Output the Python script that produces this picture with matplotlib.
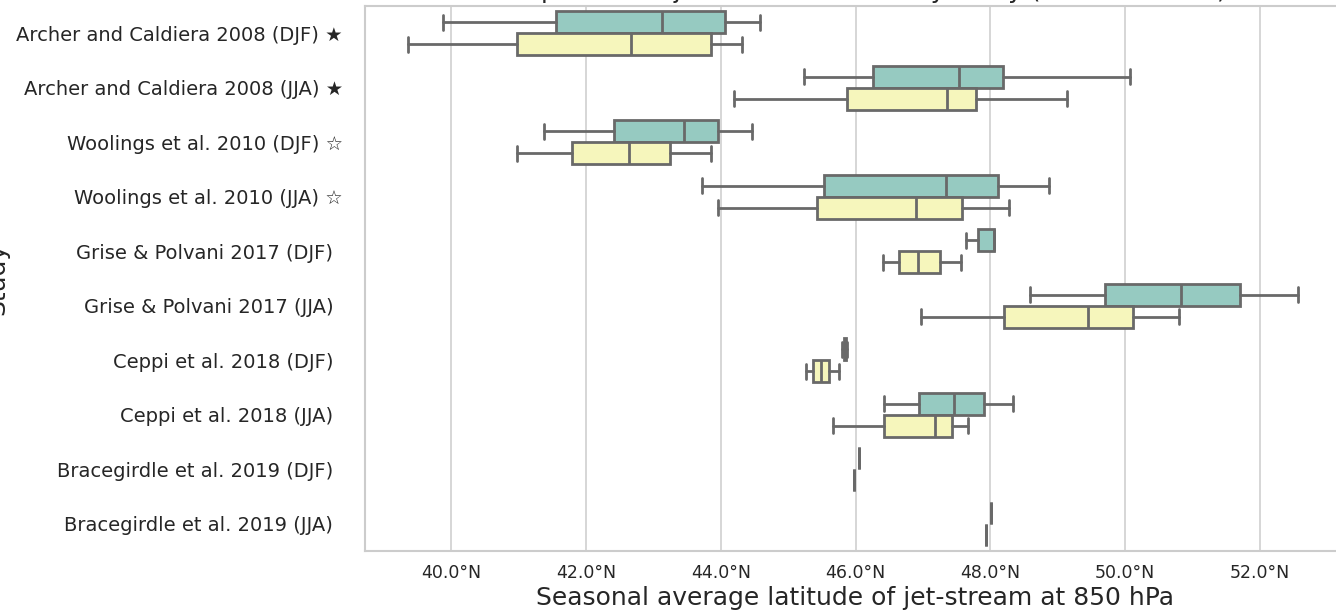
import matplotlib
matplotlib.use("Agg")
import matplotlib.pyplot as plt
import seaborn as sns

sns.set_theme(style="whitegrid")
plt.rcParams['font.family'] = ['DejaVu Sans']

studies = [
    "Archer and Caldiera 2008 (DJF) \u2605",
    "Archer and Caldiera 2008 (JJA) \u2605",
    "Woolings et al. 2010 (DJF) \u2606",
    "Woolings et al. 2010 (JJA) \u2606",
    "Grise & Polvani 2017 (DJF)\u2002",
    "Grise & Polvani 2017 (JJA)\u2002",
    "Ceppi et al. 2018 (DJF)\u2002",
    "Ceppi et al. 2018 (JJA)\u2002",
    "Bracegirdle et al. 2019 (DJF)\u2002",
    "Bracegirdle et al. 2019 (JJA)\u2002",
]

# first hue group (teal)
a_lo  = [39.87, 45.24, 41.38, 43.72, 47.64, 48.58, 45.80, 46.42, 46.05, 48.01]
a_q1  = [41.55, 46.26, 42.42, 45.53, 47.82, 49.70, 45.82, 46.94, 46.05, 48.01]
a_med = [43.12, 47.53, 43.45, 47.34, 48.05, 50.82, 45.84, 47.46, 46.05, 48.01]
a_q3  = [44.06, 48.18, 43.96, 48.11, 48.05, 51.70, 45.86, 47.90, 46.05, 48.01]
a_hi  = [44.58, 50.07, 44.46, 48.87, 48.05, 52.56, 45.87, 48.34, 46.05, 48.01]

# second hue group (yellow)
b_lo  = [39.36, 44.19, 40.97, 43.95, 46.40, 46.97, 45.27, 45.67, 45.98, 47.93]
b_q1  = [40.98, 45.87, 41.79, 45.42, 46.65, 48.20, 45.36, 46.42, 45.98, 47.93]
b_med = [42.66, 47.35, 42.63, 46.90, 46.92, 49.45, 45.48, 47.18, 45.98, 47.93]
b_q3  = [43.86, 47.78, 43.25, 47.58, 47.25, 50.11, 45.61, 47.43, 45.98, 47.93]
b_hi  = [44.32, 49.14, 43.86, 48.27, 47.56, 50.79, 45.75, 47.67, 45.98, 47.93]

xticks = [40, 42, 44, 46, 48, 50, 52]

pal = sns.color_palette("Set3", 2)
cols = [sns.desaturate(c, 0.75) for c in pal]
gray = "#696969"

fig = plt.figure(figsize=(13.36, 6.13), dpi=100)
# axes runs a little past the right edge, as in the reference crop
ax = fig.add_axes([365 / 1336, 62 / 613, 980 / 1336, 545 / 613])


def stats(lo, q1, med, q3, hi):
    return [dict(whislo=lo[i], q1=q1[i], med=med[i], q3=q3[i], whishi=hi[i], fliers=[])
            for i in range(len(lo))]


groups = [
    (stats(a_lo, a_q1, a_med, a_q3, a_hi), -0.2, cols[0]),
    (stats(b_lo, b_q1, b_med, b_q3, b_hi), 0.2, cols[1]),
]
for st, off, c in groups:
    ax.bxp(st, positions=[i + off for i in range(len(studies))], widths=0.4,
           orientation='horizontal', patch_artist=True, showfliers=False,
           capwidths=0.27,
           boxprops=dict(facecolor=c, edgecolor=gray, linewidth=2),
           medianprops=dict(color=gray, linewidth=2),
           whiskerprops=dict(color=gray, linewidth=2),
           capprops=dict(color=gray, linewidth=2))

ax.set_ylim(9.5, -0.5)
ax.set_yticks(range(len(studies)))
ax.set_yticklabels(studies, fontsize=14, color="#262626")
ax.set_xlim(38.72, 53.26)
ax.set_xticks(xticks)
ax.set_xticklabels([f"{t:.1f}°N" for t in xticks], fontsize=12.5, color="#262626")
ax.tick_params(axis='y', pad=15.8, length=0)
ax.tick_params(axis='x', pad=9, length=0)
ax.yaxis.grid(False)
ax.xaxis.grid(True, color="#cccccc", linewidth=1.1)
for s in ax.spines.values():
    s.set_color("#cccccc")
    s.set_linewidth(1.5)

ax.set_xlabel("Seasonal average latitude of jet-stream at 850 hPa", fontsize=18,
              color="#262626", labelpad=3)
ax.set_ylabel("Study", fontsize=18, color="#262626")
ax.yaxis.set_label_coords(-0.3633, 0.5)
ax.set_title("Comparison of jet-stream latitude by study (CMIP5 models)", fontsize=18,
             color="#262626")

fig.savefig("out.png", dpi=100)
